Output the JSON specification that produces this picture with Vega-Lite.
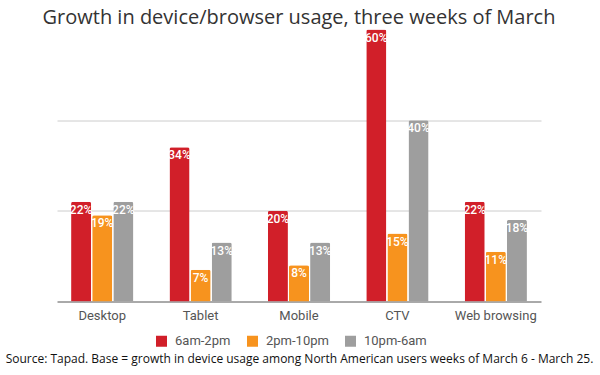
{
  "$schema": "https://vega.github.io/schema/vega-lite/v6.json",
  "width": 484,
  "height": 272,
  "autosize": {"type": "none"},
  "padding": {"left": 57, "top": 29.5, "right": 59, "bottom": 73.5},
  "background": "white",
  "config": {"view": {"stroke": null}},
  "title": {
    "text": "Growth in device/browser usage, three weeks of March",
    "font": "Open Sans",
    "fontSize": 20,
    "fontWeight": "normal",
    "color": "#333333",
    "anchor": "middle",
    "offset": 2
  },
  "data": {
    "values": [
      {"device": "Desktop", "period": "6am-2pm", "growth": 22, "label": "22%"},
      {"device": "Desktop", "period": "2pm-10pm", "growth": 19, "label": "19%"},
      {"device": "Desktop", "period": "10pm-6am", "growth": 22, "label": "22%"},
      {"device": "Tablet", "period": "6am-2pm", "growth": 34, "label": "34%"},
      {"device": "Tablet", "period": "2pm-10pm", "growth": 7, "label": "7%"},
      {"device": "Tablet", "period": "10pm-6am", "growth": 13, "label": "13%"},
      {"device": "Mobile", "period": "6am-2pm", "growth": 20, "label": "20%"},
      {"device": "Mobile", "period": "2pm-10pm", "growth": 8, "label": "8%"},
      {"device": "Mobile", "period": "10pm-6am", "growth": 13, "label": "13%"},
      {"device": "CTV", "period": "6am-2pm", "growth": 60, "label": "60%"},
      {"device": "CTV", "period": "2pm-10pm", "growth": 15, "label": "15%"},
      {"device": "CTV", "period": "10pm-6am", "growth": 40, "label": "40%"},
      {"device": "Web browsing", "period": "6am-2pm", "growth": 22, "label": "22%"},
      {"device": "Web browsing", "period": "2pm-10pm", "growth": 11, "label": "11%"},
      {"device": "Web browsing", "period": "10pm-6am", "growth": 18, "label": "18%"}
    ]
  },
  "encoding": {
    "x": {
      "field": "device",
      "type": "nominal",
      "sort": ["Desktop", "Tablet", "Mobile", "CTV", "Web browsing"],
      "scale": {"paddingInner": 0.367, "paddingOuter": 0.143},
      "axis": {
        "title": "Source: Tapad. Base = growth in device usage among North American users weeks of March 6 - March 25.",
        "labelAngle": 0,
        "labelFont": "Roboto",
        "labelFontSize": 13,
        "labelColor": "#555555",
        "labelPadding": 8,
        "ticks": false,
        "domainColor": "#555555",
        "domainWidth": 1,
        "titleFont": "Open Sans",
        "titleFontSize": 12,
        "titleFontWeight": "normal",
        "titleColor": "#111111",
        "titlePadding": 31
      }
    },
    "xOffset": {
      "field": "period",
      "type": "nominal",
      "sort": ["6am-2pm", "2pm-10pm", "10pm-6am"],
      "scale": {"paddingInner": 0.05, "paddingOuter": 0}
    },
    "y": {
      "field": "growth",
      "type": "quantitative",
      "scale": {"domain": [0, 60]},
      "axis": {
        "title": null,
        "labels": false,
        "ticks": false,
        "domain": false,
        "values": [20, 40],
        "gridColor": "#cccccc"
      }
    }
  },
  "layer": [
    {
      "mark": {"type": "bar", "cornerRadiusTopLeft": 2, "cornerRadiusTopRight": 2},
      "encoding": {
        "color": {
          "field": "period",
          "type": "nominal",
          "sort": ["6am-2pm", "2pm-10pm", "10pm-6am"],
          "scale": {
            "domain": ["6am-2pm", "2pm-10pm", "10pm-6am"],
            "range": ["#d11f29", "#f7931e", "#9e9e9e"]
          },
          "legend": {
            "orient": "none",
            "legendX": 98,
            "legendY": 305,
            "direction": "horizontal",
            "title": null,
            "symbolType": "square",
            "symbolSize": 121,
            "symbolStrokeWidth": 0,
            "labelFont": "Roboto",
            "labelFontSize": 13,
            "labelColor": "#555555",
            "labelOffset": 7,
            "columnPadding": 15
          }
        }
      }
    },
    {
      "mark": {"type": "text", "baseline": "top", "dy": 3, "color": "white", "font": "Roboto", "fontSize": 12, "fontWeight": 500},
      "encoding": {"text": {"field": "label"}}
    }
  ]
}
